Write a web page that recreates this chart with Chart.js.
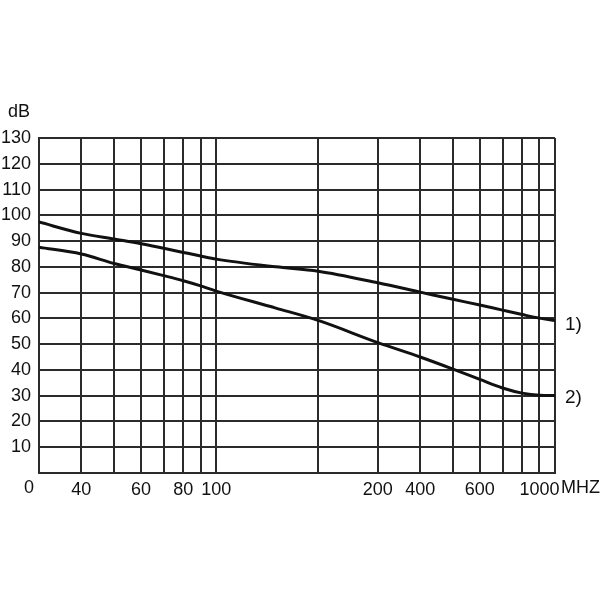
<!DOCTYPE html>
<html>
<head>
<meta charset="utf-8">
<script src="https://cdn.jsdelivr.net/npm/chart.js@4.4.1/dist/chart.umd.min.js"></script>
<style>
  html, body { margin: 0; padding: 0; background: #fff; }
  #wrap { width: 600px; height: 600px; }
</style>
</head>
<body>
<div id="wrap"><canvas id="attChart" width="600" height="600"></canvas></div>
<script>
// frequency points (MHz) where the curves were read
const freqs = [30, 40, 50, 60, 70, 80, 90, 100, 150, 200, 300, 400, 500, 600, 700, 800, 900, 1000];
const curve1 = [97.4, 93.0, 90.8, 89.0, 87.2, 85.6, 84.2, 83.0, 80.0, 78.3, 73.8, 70.2, 67.4, 65.2, 63.2, 61.5, 60.1, 59.2];
const curve2 = [87.6, 85.0, 81.3, 78.8, 76.6, 74.6, 72.6, 70.6, 64.0, 59.2, 50.6, 45.0, 40.3, 36.3, 33.0, 31.0, 30.2, 30.1];

// vertical grid lines and the labels printed under them
const gridFreqs = [30, 40, 50, 60, 70, 80, 90, 100, 200, 300, 400, 500, 600, 700, 800, 900, 1000];
const gridLabels = ['', '40', '', '60', '', '80', '', '100', '', '200', '400', '', '600', '', '', '1000', ''];

const yMin = 0, yMax = 130, yStep = 10;

const font = "'Liberation Sans', Arial, sans-serif";
const ink = '#111';
const gridColor = '#2b2b2b';

const extraText = {
  id: 'extraText',
  afterDraw(chart) {
    const c = chart.ctx;
    const y = chart.scales.y;
    c.save();
    c.fillStyle = ink;
    c.font = '18px ' + font;
    c.textBaseline = 'middle';
    c.textAlign = 'left';
    c.fillText('dB', 8, 112);
    c.fillText('MHZ', 561, 488);
    c.font = '19px ' + font;
    c.fillText('1)', chart.chartArea.right + 10, y.getPixelForValue(curve1[curve1.length - 1]) + 4);
    c.fillText('2)', chart.chartArea.right + 10, y.getPixelForValue(curve2[curve2.length - 1]) + 2);
    c.font = '18px ' + font;
    c.textAlign = 'center';
    c.fillText('0', 29, 488);
    c.restore();
  }
};

const ctx = document.getElementById('attChart').getContext('2d');
const chart = new Chart(ctx, {
  type: 'line',
  data: {
    labels: freqs,
    datasets: [
      {
        label: '1)',
        data: freqs.map((f, i) => ({ x: f, y: curve1[i] })),
        borderColor: ink,
        borderWidth: 3,
        pointRadius: 0,
        fill: false,
        cubicInterpolationMode: 'monotone'
      },
      {
        label: '2)',
        data: freqs.map((f, i) => ({ x: f, y: curve2[i] })),
        borderColor: ink,
        borderWidth: 3,
        pointRadius: 0,
        fill: false,
        cubicInterpolationMode: 'monotone'
      }
    ]
  },
  options: {
    responsive: false,
    animation: false,
    layout: { padding: { top: 138, right: 45, left: 0, bottom: 0 } },
    plugins: {
      legend: { display: false },
      tooltip: { enabled: false }
    },
    scales: {
      x: {
        type: 'logarithmic',
        min: 30,
        max: 1000,
        afterBuildTicks: function(scale) {
          scale.ticks = gridFreqs.map(v => ({ value: v }));
        },
        afterFit: function(scale) { scale.height = 127; },
        border: { color: gridColor, width: 2 },
        grid: { color: gridColor, lineWidth: 2, drawTicks: false },
        ticks: {
          autoSkip: false,
          maxRotation: 0,
          padding: 6,
          color: ink,
          font: { family: font, size: 18 },
          callback: function(value) {
            const i = gridFreqs.indexOf(value);
            return i >= 0 ? gridLabels[i] : '';
          }
        }
      },
      y: {
        min: yMin,
        max: yMax,
        afterFit: function(scale) { scale.width = 39; },
        border: { color: gridColor, width: 2 },
        grid: { color: gridColor, lineWidth: 2, drawTicks: false },
        ticks: {
          stepSize: yStep,
          autoSkip: false,
          padding: 8,
          color: ink,
          font: { family: font, size: 18 },
          callback: function(value) { return value === 0 ? '' : value; }
        }
      }
    }
  },
  plugins: [extraText]
});
</script>
</body>
</html>
